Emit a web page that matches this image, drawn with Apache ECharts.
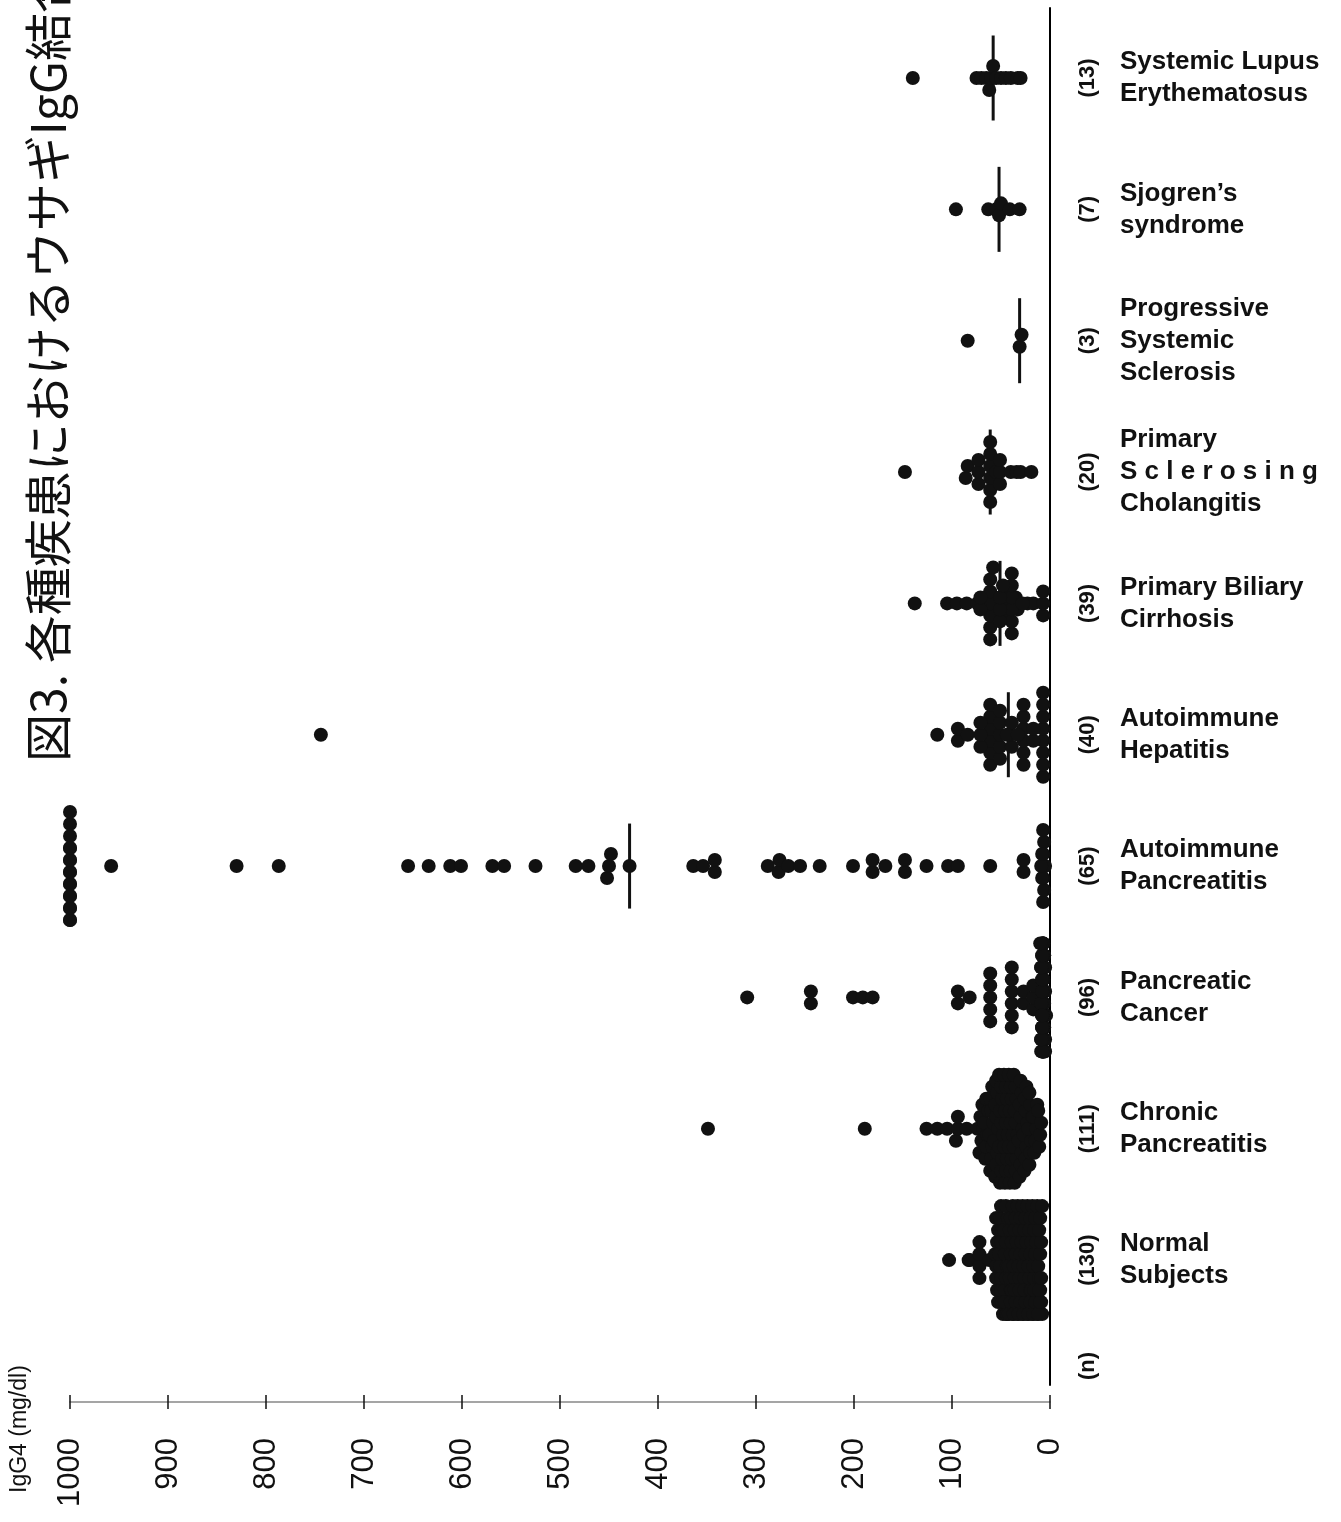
<!DOCTYPE html>
<html>
<head>
<meta charset="utf-8">
<script src="https://cdn.jsdelivr.net/npm/echarts@6/dist/echarts.min.js"></script>
<style>
  html, body { margin: 0; padding: 0; background: #fff; }
  #chart { width: 1341px; height: 1522px; }
</style>
</head>
<body>
<div id="chart"></div>
<script>
// ---------- DATA (groups listed bottom -> top) ----------
const groupNames = [
  'Normal\nSubjects',
  'Chronic\nPancreatitis',
  'Pancreatic\nCancer',
  'Autoimmune\nPancreatitis',
  'Autoimmune\nHepatitis',
  'Primary Biliary\nCirrhosis',
  'Primary\nS c l e r o s i n g\nCholangitis',
  'Progressive\nSystemic\nSclerosis',
  'Sjogren\u2019s\nsyndrome',
  'Systemic Lupus\nErythematosus'
];
const groupCounts = [130, 111, 96, 65, 40, 39, 20, 3, 7, 13];
const xTickValues = [0, 100, 200, 300, 400, 500, 600, 700, 800, 900, 1000];

const normalSubjects = [
  103, 83, 82, 72, 72, 72, 72, 62,
  53, 54, 55, 55, 56, 54, 53, 55,
  48, 49, 50, 50, 51, 52, 50, 49, 51, 50,
  44, 45, 46, 45, 44, 46, 45, 47, 43, 45, 44, 46,
  38, 39, 40, 41, 42, 40, 39, 41, 40, 38, 42, 40, 39,
  33, 34, 35, 36, 37, 35, 34, 36, 35, 33, 37, 35, 36,
  28, 29, 30, 31, 32, 30, 29, 31, 30, 28, 32, 30, 31,
  23, 24, 25, 26, 27, 25, 24, 26, 25, 23, 27, 25, 26,
  18, 19, 20, 21, 22, 20, 19, 21, 20, 18, 22, 20, 19,
  13, 14, 15, 16, 17, 15, 14, 16, 15, 13, 17, 15, 16,
  8, 9, 10, 11, 12, 10, 9, 11, 10, 8, 12, 10, 11, 9
];
const chronicPancreatitis = [
  349, 189, 126, 115, 105, 96, 94, 94, 85, 74,
  72, 70, 68, 71, 69,
  66, 65, 64, 67, 63, 65,
  61, 60, 59, 62, 58, 60, 61, 59,
  56, 55, 54, 57, 53, 55, 56, 54, 55,
  51, 50, 49, 52, 48, 50, 51, 49, 50, 52,
  46, 45, 44, 47, 43, 45, 46, 44, 45, 47,
  41, 40, 39, 42, 38, 40, 41, 39, 40, 42,
  36, 35, 34, 37, 33, 35, 36, 34, 35, 37,
  31, 30, 29, 32, 28, 30, 31, 29, 30,
  26, 25, 24, 27, 23, 25, 26, 24,
  21, 20, 19, 22, 18, 20, 21,
  16, 15, 14, 17, 13,
  11, 10, 9, 12
];
const pancreaticCancer = [
  309, 244, 244, 201, 191, 181,
  94, 82, 94,
  61, 61, 61, 61, 61,
  39, 39, 39, 39, 39, 39,
  27, 27,
  17, 17, 17,
  7, 8, 6, 7, 9, 5, 7, 8, 6, 7,
  8, 7, 6, 9, 7, 8, 5, 7, 6, 8,
  7, 9, 6, 7, 8, 7, 5, 6, 8, 7,
  9, 7, 6, 8, 7, 4, 7, 8, 6, 7,
  8, 7, 9, 6, 7, 8, 7, 5, 6, 7,
  8, 7, 6, 9, 7, 8, 6, 7, 10, 7,
  8, 6, 7, 9, 7, 8, 6, 7, 5, 7,
  8
];
const autoimmunePancreatitis = [
  1000, 1000, 1000, 1000, 1000, 1000, 1000, 1000, 1000, 1000,
  1000, 1000, 1000, 1000, 1000, 1000, 1000,
  958, 830, 787, 655, 634, 612, 601, 569, 557, 525, 484, 471,
  452, 450, 448, 429,
  364, 354, 342, 342,
  288, 277, 276, 267, 255,
  235, 201, 181, 181, 168, 148, 148, 126, 104, 94, 61, 27, 27,
  7, 8, 6, 7, 9, 5, 7, 8, 6, 7
];
const autoimmuneHepatitis = [
  744, 115,
  61, 27, 61, 51, 39, 27,
  7, 7, 7, 7,
  94, 71, 61, 51,
  94, 84, 71, 61, 51, 41, 27, 17, 7,
  71, 51, 27, 17,
  61, 51, 27, 27,
  7, 7, 7, 61,
  39, 44, 33
];
const primaryBiliaryCirrhosis = [
  138, 105, 95, 85, 74, 64, 54, 44, 33, 23,
  39, 61, 51, 61, 39, 71, 51, 39, 17,
  71, 61, 61, 51, 39, 61, 39, 61, 39, 7, 7, 7,
  56, 48, 45, 43, 66, 58, 35, 28
];
const primarySclerosingCholangitis = [
  148, 86, 84, 73, 73, 73, 61, 61, 61, 61, 61, 61, 55, 51, 51, 51, 40, 34, 30, 19
];
const progressiveSystemicSclerosis = [84, 31, 29];
const sjogrensSyndrome = [96, 63, 55, 52, 50, 41, 31];
const systemicLupusErythematosus = [140, 75, 70, 65, 62, 60, 58, 55, 50, 45, 40, 33, 30];

const groupValues = [
  normalSubjects, chronicPancreatitis, pancreaticCancer, autoimmunePancreatitis,
  autoimmuneHepatitis, primaryBiliaryCirrhosis, primarySclerosingCholangitis,
  progressiveSystemicSclerosis, sjogrensSyndrome, systemicLupusErythematosus
];

const titleText = '図3. 各種疾患におけるウサギIgG結合能';
const axisTitle = 'IgG4 (mg/dl)';

// ---------- LAYOUT ----------
const W = 1341, H = 1522;
const GRID = { left: 70, right: 291, top: 8, bottom: 137 };
const Y_MIN = -0.951, Y_MAX = 9.533;
const PX_PER_UNIT = (H - GRID.top - GRID.bottom) / (Y_MAX - Y_MIN);
const BIN = 5;            // value units per dot column
const STEP_PX = 12;       // vertical spacing of stacked dots
const MAX_SLOTS = 10;     // max distinct stacking slots per column
const HALF_LINE_PX = 42.5;
const STEP = STEP_PX / PX_PER_UNIT;

function swarm(values, gi) {
  const bins = new Map();
  values.forEach(v => {
    const k = Math.round(v / BIN);
    if (!bins.has(k)) bins.set(k, []);
    bins.get(k).push(v);
  });
  const pts = [];
  bins.forEach(arr => {
    const slots = Math.min(arr.length, MAX_SLOTS);
    arr.forEach((v, j) => {
      const s = j % slots;
      pts.push([v, gi + (s - (slots - 1) / 2) * STEP]);
    });
  });
  return pts;
}
function median(values) {
  const s = values.slice().sort((a, b) => a - b);
  const n = s.length;
  return n % 2 ? s[(n - 1) / 2] : (s[n / 2 - 1] + s[n / 2]) / 2;
}

const dotData = [];
groupValues.forEach((vals, gi) => swarm(vals, gi).forEach(p => dotData.push(p)));
const medianData = groupValues.map((vals, gi) => [median(vals), gi]);

const FONT = '"Liberation Sans", Arial, Helvetica, sans-serif';
const labelTop = GRID.top + (Y_MAX - (groupNames.length - 1) - 0.5) * PX_PER_UNIT;
const labelHeight = groupNames.length * PX_PER_UNIT;

const chart = echarts.init(document.getElementById('chart'), null, { renderer: 'canvas' });
chart.setOption({
  animation: false,
  backgroundColor: '#ffffff',
  grid: [
    { left: GRID.left, right: GRID.right, top: GRID.top, bottom: GRID.bottom },
    { left: GRID.left, right: GRID.right, top: labelTop, height: labelHeight }
  ],
  xAxis: [
    {
      gridIndex: 0, type: 'value', min: xTickValues[0], max: xTickValues[xTickValues.length - 1],
      interval: 100, inverse: true, position: 'bottom', offset: 17,
      axisLine: { show: true, onZero: false, lineStyle: { color: '#888', width: 1.5 } },
      axisTick: { show: true, inside: false, length: 7, lineStyle: { color: '#111', width: 1.5 } },
      axisLabel: { rotate: 90, margin: 36, fontSize: 31, color: '#111', fontFamily: FONT,
                   formatter: v => String(v) },
      splitLine: { show: false }
    },
    {
      gridIndex: 0, type: 'value', min: xTickValues[0], max: xTickValues[xTickValues.length - 1],
      interval: 100, inverse: true, position: 'bottom', offset: 17,
      axisLine: { show: false, onZero: false },
      axisTick: { show: true, inside: true, length: 7, lineStyle: { color: '#111', width: 1.5 } },
      axisLabel: { show: false },
      splitLine: { show: false }
    },
    { gridIndex: 1, type: 'value', show: false, min: 0, max: 1000, inverse: true }
  ],
  yAxis: [
    {
      gridIndex: 0, type: 'value', min: Y_MIN, max: Y_MAX, position: 'right',
      axisLine: { show: true, onZero: false, lineStyle: { color: '#000', width: 2 } },
      axisTick: { show: false }, axisLabel: { show: false }, splitLine: { show: false }
    },
    {
      gridIndex: 1, type: 'category', data: groupCounts.map(n => '(' + n + ')'), position: 'right',
      axisLine: { show: false }, axisTick: { show: false }, splitLine: { show: false },
      axisLabel: { rotate: 90, margin: 27, fontSize: 22, fontWeight: 'bold', color: '#111', fontFamily: FONT, interval: 0 }
    },
    {
      gridIndex: 1, type: 'category', data: groupNames, position: 'right',
      axisLine: { show: false }, axisTick: { show: false }, splitLine: { show: false },
      axisLabel: { margin: 70, fontSize: 26, fontWeight: 'bold', lineHeight: 32, color: '#111', fontFamily: FONT, align: 'left', interval: 0 }
    }
  ],
  series: [
    {
      type: 'custom', xAxisIndex: 0, yAxisIndex: 0, z: 1, data: medianData,
      renderItem: (params, api) => {
        const m = api.value(0), g = api.value(1);
        const h = HALF_LINE_PX / PX_PER_UNIT;
        const p1 = api.coord([m, g - h]), p2 = api.coord([m, g + h]);
        return { type: 'line', shape: { x1: p1[0], y1: p1[1], x2: p2[0], y2: p2[1] },
                 style: { stroke: '#111', lineWidth: 3 } };
      }
    },
    {
      type: 'scatter', xAxisIndex: 0, yAxisIndex: 0, z: 2, data: dotData,
      symbol: 'circle', symbolSize: 14, itemStyle: { color: '#111', opacity: 1 }
    }
  ],
  graphic: [
    { type: 'text', x: 48, y: 762, rotation: Math.PI / 2,
      style: { text: titleText, font: '48px "Noto Sans CJK JP"', fill: '#111',
               textAlign: 'left', align: 'left', textVerticalAlign: 'middle', verticalAlign: 'middle' } },
    { type: 'text', x: 20, y: 1493, rotation: Math.PI / 2,
      style: { text: axisTitle, font: '23px ' + FONT, fill: '#111',
               textAlign: 'left', align: 'left', textVerticalAlign: 'middle', verticalAlign: 'middle' } },
    { type: 'text', x: 1088, y: 1366, rotation: Math.PI / 2,
      style: { text: '(n)', font: 'bold 22px ' + FONT, fill: '#111',
               textAlign: 'center', align: 'center', textVerticalAlign: 'middle', verticalAlign: 'middle' } }
  ]
});
</script>
</body>
</html>
